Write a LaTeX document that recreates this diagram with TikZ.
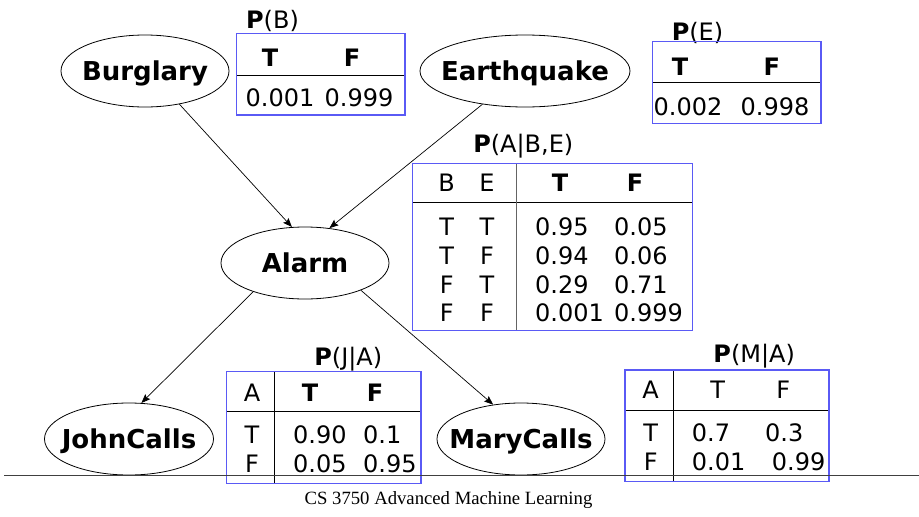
\documentclass[tikz,border=0pt]{standalone}
\usepackage{fontspec}
\setmainfont{DejaVu Sans}
\newfontfamily\footfont{Liberation Serif}
\usetikzlibrary{shapes.geometric,arrows.meta}
\definecolor{tblue}{RGB}{90,90,245}
\definecolor{tgray}{RGB}{100,100,100}
\begin{document}
\begin{tikzpicture}[x=1pt,y=-1pt,
  bn/.style={ellipse, draw, line width=0.8pt, minimum height=72, inner sep=0pt,
    label={[lbl]center:#1}},
  lbl/.style={font=\fontsize{26}{26}\selectfont\bfseries, inner sep=0pt, text height=19pt, text depth=0pt},
  cell/.style={font=\fontsize{24}{24}\selectfont, inner sep=0pt, text height=17.5pt, text depth=0pt},
  bcell/.style={cell, font=\fontsize{24}{24}\selectfont\bfseries},
  vcell/.style={cell, anchor=west},
  frame/.style={draw=tblue, line width=1.1pt},
  rule/.style={draw=black, line width=0.9pt},
  grule/.style={draw=tgray, line width=1.1pt},
  arr/.style={draw, line width=0.7pt, -{Stealth[length=9pt,width=7pt,inset=1.5pt]}}
]
\useasboundingbox (0,0) rectangle (919,517);

% Bayes net nodes
\node[bn=Burglary, minimum width=168] (b) at (145,71) {};
\node[bn=Earthquake, minimum width=210] (e) at (525,71) {};
\node[bn=Alarm, minimum width=168] (a) at (305,263) {};
\node[bn=JohnCalls, minimum width=169] (j) at (129,439) {};
\node[bn=MaryCalls, minimum width=168] (m) at (521,439) {};

\draw[arr] (b.-44) -- (a.110);
\draw[arr] (e.-142) -- (a.55);
\draw[arr] (a.-151) -- (j.71);
\draw[arr] (a.-26) -- (m.129);

% P(B)
\node[cell] (tb) at (272.5,20) {\textbf{P}(B)};
\draw[rule] (236.7,75) -- (405,75);
\draw[frame] (236.7,33.3) rectangle (405,115);
\node[bcell] (tbT) at (270,58) {T};
\node[bcell] (tbF) at (352,58) {F};
\node[cell] (tbv1) at (280,97.6) {0.001};
\node[cell] (tbv2) at (359,97.6) {0.999};

% P(E)
\node[cell] (te) at (697.5,31.7) {\textbf{P}(E)};
\draw[rule] (652.7,82.7) -- (821,82.7);
\draw[frame] (652.7,41.7) rectangle (821,123.3);
\node[bcell] (teT) at (680,66.7) {T};
\node[bcell] (teF) at (771.7,66.7) {F};
\node[cell] (tev1) at (688,106.7) {0.002};
\node[cell] (tev2) at (775,106.7) {0.998};

% P(A|B,E)
\node[cell] (ta) at (523.3,144) {\textbf{P}(A|B,E)};
\draw[rule] (412.7,202.7) -- (692.7,202.7);
\draw[grule] (516.7,163.3) -- (516.7,330.7);
\draw[frame] (412.7,163.3) rectangle (692.7,330.7);
\node[cell] (taB) at (446.7,183) {B};
\node[cell] (taE) at (487,183) {E};
\node[bcell] (taT) at (560,183) {T};
\node[bcell] (taF) at (635,183) {F};
\foreach \y/\p/\q/\u/\v [count=\i] in {226.7/T/T/0.95/0.05, 256/T/F/0.94/0.06, 285/F/T/0.29/0.71, 312.7/F/F/0.001/0.999}{
  \node[cell] (tar\i b) at (446.7,\y) {\p};
  \node[cell] (tar\i e) at (487,\y) {\q};
  \node[vcell] (tar\i t) at (535,\y) {\u};
  \node[vcell] (tar\i f) at (614,\y) {\v};
}

% P(J|A)
\node[cell] (tj) at (348.3,356.7) {\textbf{P}(J|A)};
\draw[rule] (226.7,411) -- (421,411);
\draw[rule] (274.3,371.7) -- (274.3,483.3);
\draw[frame] (226.7,371.7) rectangle (421,483.3);
\node[cell] (tjA) at (252,392.7) {A};
\node[bcell] (tjT) at (310,392.7) {T};
\node[bcell] (tjF) at (375,392.7) {F};
\node[cell] (tj1a) at (252,435) {T};
\node[vcell] (tj1t) at (293,435) {0.90};
\node[vcell] (tj1f) at (363,435) {0.1};
\node[cell] (tj2a) at (252,463.3) {F};
\node[vcell] (tj2t) at (293,463.3) {0.05};
\node[vcell] (tj2f) at (363,463.3) {0.95};

% P(M|A)
\node[cell] (tm) at (754.2,353.3) {\textbf{P}(M|A)};
\draw[rule] (625,410) -- (829,410);
\draw[rule] (673.3,370) -- (673.3,481.7);
\draw[frame] (625,370) rectangle (829,481.7);
\node[cell] (tmA) at (650.7,390) {A};
\node[cell] (tmT) at (717.7,390) {T};
\node[cell] (tmF) at (783.3,390) {F};
\node[cell] (tm1a) at (650.7,433) {T};
\node[vcell] (tm1t) at (691.7,433) {0.7};
\node[vcell] (tm1f) at (765,433) {0.3};
\node[cell] (tm2a) at (650.7,461.7) {F};
\node[vcell] (tm2t) at (691.7,461.7) {0.01};
\node[vcell] (tm2f) at (771.7,461.7) {0.99};

% footer
\draw[draw=black!75, line width=0.9pt] (4,475) -- (919,475);
\node[font=\footfont\fontsize{18.7}{18.7}\selectfont, inner sep=0pt, text height=12.4pt, text depth=0pt] (foot) at (448.5,498.3) {CS 3750 Advanced Machine Learning};
\end{tikzpicture}
\end{document}
